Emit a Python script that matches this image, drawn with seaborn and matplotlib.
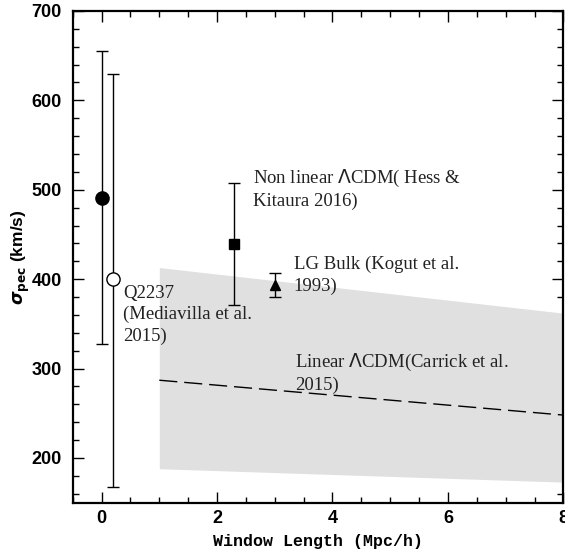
import matplotlib
matplotlib.use("Agg")
import matplotlib.pyplot as plt
import seaborn as sns
import pandas as pd
from matplotlib.ticker import MultipleLocator

# Peculiar velocity measurements (km/s) versus window length (Mpc/h)
point_x = [0.0, 0.2, 2.3, 3.0]
point_y = [491, 400, 439, 394]
err_low = [327, 168, 371, 380]
err_high = [655, 630, 508, 407]
point_marker = ["o", "o", "s", "^"]
point_filled = [True, False, True, True]
point_size = [9.5, 9.5, 6.5, 7]

# Linear LCDM prediction: central curve and spread band
band_x = [1, 8]
band_low = [188, 173]
band_high = [413, 362]
linear_y = [287, 248]

labels = [
    (0.37, 394, "Q2237\n(Mediavilla et al.\n2015)"),
    (2.62, 525, "Non linear $\\Lambda$CDM( Hess &\nKitaura 2016)"),
    (3.33, 426, "LG Bulk (Kogut et al.\n1993)"),
    (3.35, 319, "Linear $\\Lambda$CDM(Carrick et al.\n2015)"),
]

sns.set_theme(style="ticks")
plt.rcParams["font.family"] = ["Liberation Sans", "DejaVu Sans"]
plt.rcParams["mathtext.fontset"] = "dejavusans"

fig = plt.figure(figsize=(5.65, 5.54), dpi=100)
ax = fig.add_axes([0.1287, 0.0926, 0.8685, 0.8876])

ax.fill_between(band_x, band_low, band_high, color="#e0e0e0", linewidth=0, zorder=1)

lin_df = pd.DataFrame({"x": band_x, "y": linear_y})
sns.lineplot(data=lin_df, x="x", y="y", ax=ax, color="black", linewidth=1.0,
             linestyle=(0, (13, 5)), zorder=2)

for x, y, lo, hi, m, filled, ms in zip(point_x, point_y, err_low, err_high,
                                       point_marker, point_filled, point_size):
    ax.errorbar([x], [y], yerr=[[y - lo], [hi - y]], fmt="none", ecolor="black",
                elinewidth=1.0, capsize=4.5, capthick=1.0, zorder=3)
    ax.plot([x], [y], marker=m, markersize=ms, linestyle="none",
            markerfacecolor="black" if filled else "white",
            markeredgecolor="black", markeredgewidth=1.0, zorder=4)

for x, y, t in labels:
    ax.text(x, y, t, family=["Liberation Serif", "DejaVu Serif"], fontsize=13.5,
            ha="left", va="top", linespacing=1.33, color="#222222", zorder=5)

ax.set_xlim(-0.5, 8)
ax.set_ylim(150, 700)
ax.xaxis.set_major_locator(MultipleLocator(2))
ax.xaxis.set_minor_locator(MultipleLocator(0.5))
ax.yaxis.set_major_locator(MultipleLocator(100))
ax.yaxis.set_minor_locator(MultipleLocator(20))
ax.set_yticks([200, 300, 400, 500, 600, 700])

ax.tick_params(which="both", direction="in", top=True, right=True,
               color="black", width=1.0)
ax.tick_params(which="major", length=8)
ax.tick_params(axis="y", which="major", pad=8)
ax.tick_params(axis="x", which="major", pad=5)
ax.tick_params(which="minor", length=4)
for lab in ax.get_xticklabels() + ax.get_yticklabels():
    lab.set_fontweight("bold")
    lab.set_fontsize(13)
    lab.set_color("black")

for sp in ax.spines.values():
    sp.set_linewidth(1.6)
    sp.set_color("black")
    sp.set_visible(True)

ax.set_xlabel("Window Length (Mpc/h)", family=["Liberation Mono", "DejaVu Sans Mono"],
              fontweight="bold", fontsize=12, labelpad=5, color="black")
ax.set_ylabel(r"$\boldsymbol{\sigma}_{\mathbf{pec}}$ (km/s)", fontweight="bold",
              fontsize=12.5, labelpad=-0.5, color="black")

fig.savefig("out.png", dpi=100)
